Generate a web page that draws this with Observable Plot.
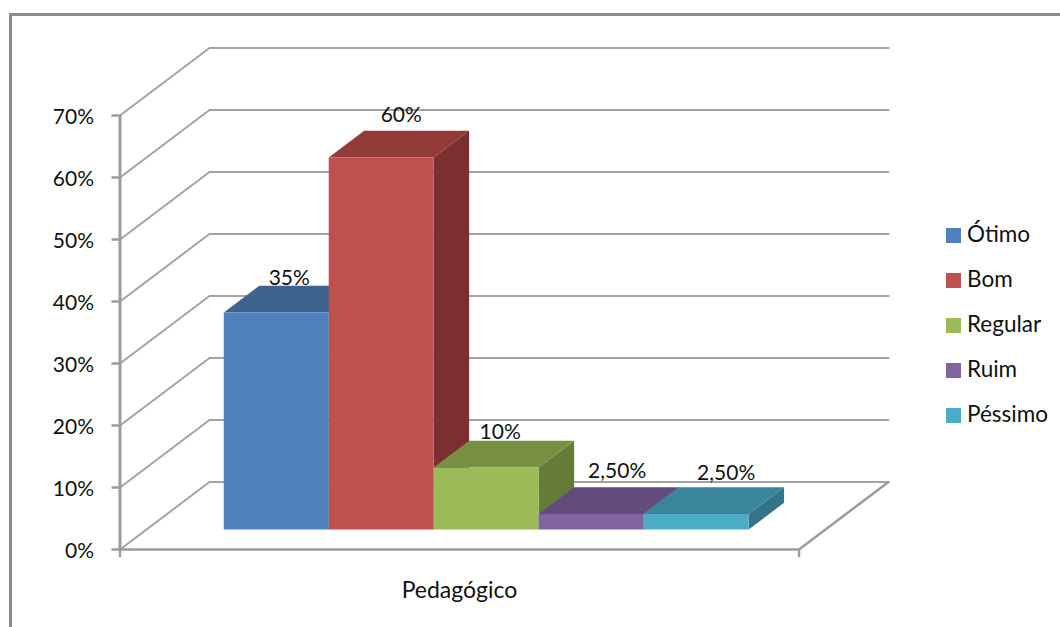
<!DOCTYPE html>
<html lang="pt">
<head>
<meta charset="utf-8">
<title>Pedagógico</title>
<script src="https://cdn.jsdelivr.net/npm/d3@7"></script>
<script src="https://cdn.jsdelivr.net/npm/@observablehq/plot@0.6"></script>
<style>
  html, body { margin: 0; padding: 0; background: #fff; }
  #chart { position: relative; width: 1060px; height: 627px; overflow: hidden; font-family: Lato, "Open Sans", sans-serif; color: #111; }
  #chart svg { position: absolute; left: 0; top: 0; }
  #frame { position: absolute; left: 9px; top: 13px; right: -10px; bottom: -10px; border: 3px solid #8c8c8c; }
  #legend { position: absolute; left: 946px; top: 212px; margin: 0; padding: 0; list-style: none; font-size: 22.5px; }
  #legend li { display: flex; align-items: center; height: 45px; line-height: 43px; }
  #legend i { display: block; width: 15px; height: 15px; margin-right: 6px; position: relative; top: 1px; }
  #legend span { position: relative; top: -1px; }
</style>
</head>
<body>
<div id="chart"><div id="frame"></div><ul id="legend"></ul></div>
<script>
// Survey results for one category, one bar per rating
const category = "Pedagógico";
const ratings = ["Ótimo", "Bom", "Regular", "Ruim", "Péssimo"];
const shares = [35, 60, 10, 2.5, 2.5];
const shareLabels = ["35%", "60%", "10%", "2,50%", "2,50%"];
const yTicks = [0, 10, 20, 30, 40, 50, 60, 70];

// Face shading of each bar
const frontColors = ["#4f81bd", "#c0504d", "#9bbb59", "#8064a2", "#4bacc6"];
const topColors = ["#3f638f", "#943a38", "#789044", "#644b7d", "#39869a"];
const sideColors = ["#30496b", "#7a3030", "#657b3a", "#55406e", "#337488"];

// Hand placement of the value labels, in pixels from the centre of the bar's front top edge
const labelNudgeX = [13, 20, 14, 26, 30];
const labelNudgeY = [-34, -42, -35, -43, -41];

// Oblique projection: depth t runs from 0 (front) to 1 (back wall)
const depthX = 0.1318; // x units per full depth
const depthY = 10.89;  // percentage points per full depth
const pt = (id, u, v, t, extra = {}) => ({id, x: u + t * depthX, y: v + t * depthY, ...extra});

const barGap = 0.1138, barWidth = 0.1546, barFront = 0.296, barBack = 0.692;
const barStart = (i) => barGap + i * barWidth;

// Walls: one bent line per gridline level, then the floor outline
const walls = yTicks.flatMap((v) => [
  pt(`g${v}`, 0, v, 0), pt(`g${v}`, 0, v, 1), pt(`g${v}`, 1, v, 1)
]);
const floor = [pt("f", 0, 0, 0), pt("f", 1, 0, 0), pt("f", 1, 0, 1)];

// Three visible faces per bar, painted left to right
const faces = shares.flatMap((v, i) => {
  const a = barStart(i), b = a + barWidth;
  const poly = (name, fill, corners) =>
    corners.map(([u, w, t]) => pt(`${name}${i}`, u, w, t, {fill}));
  return [
    ...poly("side", sideColors[i], [[b, 0, barFront], [b, 0, barBack], [b, v, barBack], [b, v, barFront]]),
    ...poly("top", topColors[i], [[a, v, barFront], [b, v, barFront], [b, v, barBack], [a, v, barBack]]),
    ...poly("front", frontColors[i], [[a, 0, barFront], [b, 0, barFront], [b, v, barFront], [a, v, barFront]])
  ];
});

const gridColor = "#a3a3a3", axisColor = "#9c9c9c", fontSize = 21;

const plot = Plot.plot({
  width: 1060,
  height: 627,
  marginLeft: 119.5,
  marginRight: 261.5,
  marginTop: 115,
  marginBottom: 78,
  style: {fontFamily: "Lato, 'Open Sans', sans-serif", fontSize: `${fontSize}px`, color: "#111", background: "transparent"},
  x: {domain: [0, 1], axis: null},
  y: {domain: [0, 70], axis: null},
  marks: [
    Plot.line(walls, {x: "x", y: "y", z: "id", stroke: gridColor, strokeWidth: 2, curve: "linear"}),
    Plot.line(floor, {x: "x", y: "y", z: "id", stroke: axisColor, strokeWidth: 2.5, curve: "linear"}),
    Plot.ruleX([0], {y1: 0, y2: 70, stroke: axisColor, strokeWidth: 3}),
    Plot.axisY({ticks: yTicks, tickSize: 8, fill: "none", stroke: axisColor, strokeWidth: 2.5}),
    Plot.axisX({ticks: [0, 1], tickSize: 8, fill: "none", stroke: axisColor, strokeWidth: 2.5}),
    Plot.axisY({
      ticks: yTicks, tickSize: 0, tickPadding: 26, stroke: "none", fill: "#111",
      fontSize, dy: 2, tickFormat: (d) => `${d}%`, label: null
    }),
    Plot.axisX({
      ticks: [0.5], tickSize: 0, tickPadding: 32, stroke: "none", fill: "#111",
      fontSize: 23, tickFormat: () => category, label: null
    }),
    Plot.line(faces, {x: "x", y: "y", z: "id", fill: "fill", stroke: "none", curve: "linear"}),
    ...shares.map((v, i) =>
      Plot.text([shareLabels[i]], {
        x: () => barStart(i) + barWidth / 2 + barFront * depthX,
        y: () => v + barFront * depthY,
        text: (d) => d,
        dx: labelNudgeX[i],
        dy: labelNudgeY[i],
        fontSize,
        fill: "#111"
      })
    )
  ]
});

document.getElementById("chart").append(plot);

// Legend to the right of the chart
document.getElementById("legend").append(...ratings.map((name, i) => {
  const li = document.createElement("li");
  const swatch = document.createElement("i");
  const text = document.createElement("span");
  swatch.style.background = frontColors[i];
  text.textContent = name;
  li.append(swatch, text);
  return li;
}));
</script>
</body>
</html>
